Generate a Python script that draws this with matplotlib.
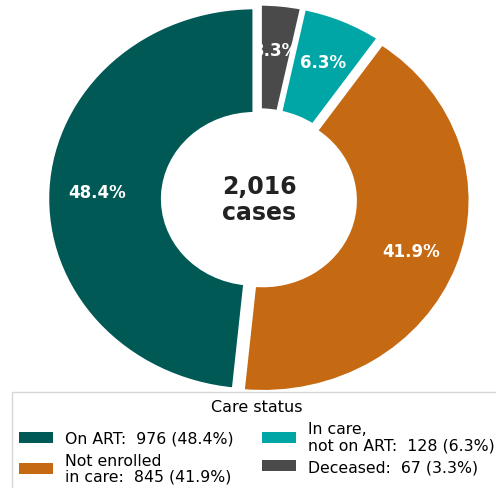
import matplotlib
matplotlib.use("Agg")
import matplotlib.pyplot as plt

# datos (orden en el sentido de las agujas del reloj desde arriba)
labels = ["Deceased", "In care,\nnot on ART", "Not enrolled\nin care", "On ART"]
counts = [67, 128, 845, 976]
pcts = [3.3, 6.3, 41.9, 48.4]
colors = ["#4a4a4a", "#00a5a5", "#c66913", "#005955"]
total = 2016

fig = plt.figure(figsize=(4.96, 4.89), dpi=100)
ax = fig.add_axes([0, 0, 1, 1])

wedges, texts, autotexts = ax.pie(
    counts, colors=colors, startangle=90, counterclock=False,
    explode=[0.02] * 4, autopct="%1.1f%%", pctdistance=0.76,
    wedgeprops=dict(width=0.56, edgecolor="white", linewidth=3.5),
    textprops=dict(color="white", fontsize=12, fontweight="bold"))

# texto al mismo nivel que las cuñas
for w in wedges:
    w.set_zorder(1)
for t in autotexts:
    t.set_zorder(1)

ax.set_aspect("auto")
ax.set_xlim(-1.245, 1.139)
ax.set_ylim(-1.505, 1.042)
ax.axis("off")

ax.text(0, 0, f"{total:,}\ncases", ha="center", va="center",
        fontsize=17, fontweight="bold", color="#222222", linespacing=1.1)

# leyenda
order = [3, 2, 1, 0]
handles = [wedges[i] for i in order]
leg_labels = [f"{labels[i]}:  {counts[i]} ({pcts[i]}%)" for i in order]
leg = fig.legend(handles, leg_labels, title="Care status", ncol=2,
                 loc="upper left", bbox_to_anchor=(12 / 496, 1 - 393 / 489),
                 borderaxespad=0, fontsize=11.3, title_fontsize=11.5,
                 frameon=True, fancybox=False, edgecolor="#cccccc",
                 handlelength=2.15, handletextpad=0.75, columnspacing=1.85,
                 borderpad=0.45, labelspacing=0.45)
for h in leg.legend_handles:
    h.set_edgecolor("none")
for t in leg.get_texts():
    t.set_linespacing(1.1)

fig.savefig("out.png", dpi=100)
